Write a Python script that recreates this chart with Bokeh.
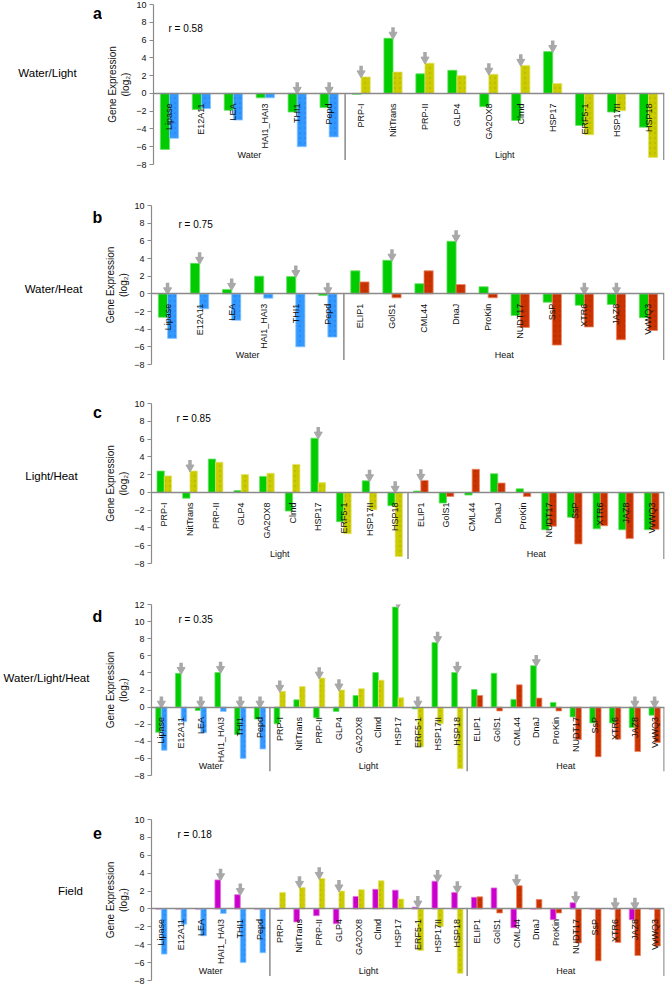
import numpy as np
from bokeh.plotting import figure
from bokeh.models import FactorRange, Label, ColumnDataSource, FixedTicker, Range1d
from bokeh.transform import dodge
from bokeh.layouts import column, row
from bokeh.embed import file_html
from bokeh.resources import INLINE
from bokeh.core.properties import value

# ---------------- data ----------------
WATER = ["Lipase", "E12A11", "LEA", "HAI1_HAI3", "THI1", "Pepd"]
LIGHT = ["PRP-I", "NitTrans", "PRP-II", "GLP4", "GA2OX8", "Clmd", "HSP17",
         "ERF5-1", "HSP17II", "HSP18"]
HEAT = ["ELIP1", "GolS1", "CML44", "DnaJ", "ProKin", "NUDT17", "SsP",
        "XTR6", "JAZ8", "VvWQ3"]

# single-stress responses
WATER_ONLY = [-5.05, -1.7, -3.0, -0.5, -6.0, -4.9]
LIGHT_ONLY = [1.85, 2.4, 3.4, 2.0, 2.15, 3.15, 1.1, -4.65, -1.95, -7.2]
HEAT_ONLY = [1.35, -0.45, 2.6, 1.05, -0.45, -3.8, -5.8, -3.75, -5.2, -4.15]

# a: Water/Light
A_WATER = [-6.3, -1.8, -1.9, -0.5, -2.1, -1.6]
A_LIGHT = [-0.1, 6.2, 2.2, 2.6, -1.5, -3.05, 4.7, -3.6, -2.1, -3.8]
A_ARROWS = ["THI1", "Pepd", "PRP-I", "NitTrans", "PRP-II", "GA2OX8", "Clmd", "HSP17"]
# b: Water/Heat
B_WATER = [-2.65, 3.45, 0.5, 2.0, 1.95, -0.2]
B_HEAT = [2.6, 3.8, 1.15, 5.95, 0.8, -2.45, -0.95, -1.3, -1.2, -2.7]
B_ARROWS = ["Lipase", "E12A11", "LEA", "THI1", "Pepd", "GolS1", "DnaJ", "XTR6", "JAZ8"]
# c: Light/Heat
C_LIGHT = [2.4, -0.65, 3.75, 0.2, 1.8, -2.1, 6.1, -3.3, 1.3, -1.5]
C_HEAT = [0.15, -1.2, -0.3, 2.1, 0.4, -4.2, -2.8, -4.1, -4.2, -4.2]
C_ARROWS = ["NitTrans", "HSP17", "HSP17II", "HSP18", "ELIP1"]
# d: Water/Light/Heat
D_WATER = [-2.95, 3.95, -0.4, 4.05, -3.2, -1.4]
D_LIGHT = [-1.95, 0.85, -1.25, -0.5, 1.35, 4.05, 11.7, -0.2, 7.55, 4.05]
D_HEAT = [2.05, 3.95, 0.9, 4.85, 0.55, -1.15, -1.85, -1.85, -2.4, -0.95]
D_ARROWS = ["Lipase", "E12A11", "LEA", "HAI1_HAI3", "THI1", "Pepd", "PRP-I", "PRP-II",
            "GLP4", "HSP17", "ERF5-1", "HSP17II", "HSP18", "DnaJ", "JAZ8", "VvWQ3"]
# e: Field
E_WATER = [0.0, 0.0, 0.0, 3.25, 1.6, 0.0]
E_LIGHT = [0.0, -1.45, -0.75, -1.65, 1.4, 2.2, 2.1, 0.2, 3.1, 1.85]
E_HEAT = [1.3, 2.35, -2.1, 0.0, -1.2, 0.7, 0.0, 0.0, -1.2, 0.0]
E_ARROWS = ["HAI1_HAI3", "THI1", "NitTrans", "PRP-II", "GLP4", "ERF5-1", "HSP17II",
            "HSP18", "CML44", "NUDT17", "XTR6", "JAZ8"]

R_VALUES = ["r = 0.58", "r = 0.75", "r = 0.85", "r = 0.35", "r = 0.18"]
ROW_LABELS = ["Water/Light", "Water/Heat", "Light/Heat", "Water/Light/Heat", "Field"]
LETTERS = ["a", "b", "c", "d", "e"]

GREEN = "#00cc00"
BLUE = "#3399ff"
YELLOW = "#cccc00"
RED = "#cc3300"
MAGENTA = "#cc00cc"
EDGE = {GREEN: "#66e066", BLUE: "#8cc6ff", YELLOW: "#e3e36a", RED: "#ee8866", MAGENTA: "#e070e0"}
DOTS = {BLUE: "#1060c0", YELLOW: "#8f8f00", RED: "#7a1f00"}
AXIS_C = "#8a8a8a"
ARROW_C = "#a8a8a8"
FONT = "Liberation Sans"

panels = [
    dict(groups=[("Water", WATER, A_WATER, WATER_ONLY, BLUE), ("Light", LIGHT, A_LIGHT, LIGHT_ONLY, YELLOW)],
         combo=GREEN, ymax=10, arrows=A_ARROWS, height=198, top=4, frame=160, left=51,
         row_x=47, row_y=2.3, r_x=15, r_y=7.3, let_y=9.0),
    dict(groups=[("Water", WATER, B_WATER, WATER_ONLY, BLUE), ("Heat", HEAT, B_HEAT, HEAT_ONLY, RED)],
         combo=GREEN, ymax=10, arrows=B_ARROWS, height=200, top=7, frame=159, left=43,
         row_x=53, row_y=0.5, r_x=27, r_y=7.9, let_y=8.65),
    dict(groups=[("Light", LIGHT, C_LIGHT, LIGHT_ONLY, YELLOW), ("Heat", HEAT, C_HEAT, HEAT_ONLY, RED)],
         combo=GREEN, ymax=10, arrows=C_ARROWS, height=200, top=5, frame=160, left=44,
         row_x=51, row_y=1.85, r_x=25, r_y=8.3, let_y=8.95),
    dict(groups=[("Water", WATER, D_WATER, WATER_ONLY, BLUE), ("Light", LIGHT, D_LIGHT, LIGHT_ONLY, YELLOW),
                 ("Heat", HEAT, D_HEAT, HEAT_ONLY, RED)],
         combo=GREEN, ymax=12, arrows=D_ARROWS, height=214, top=6, frame=171, left=43,
         row_x=46, row_y=3.35, r_x=27, r_y=10.25, let_y=10.55),
    dict(groups=[("Water", WATER, E_WATER, WATER_ONLY, BLUE), ("Light", LIGHT, E_LIGHT, LIGHT_ONLY, YELLOW),
                 ("Heat", HEAT, E_HEAT, HEAT_ONLY, RED)],
         combo=MAGENTA, ymax=10, arrows=E_ARROWS, height=173, top=7, frame=161, left=43,
         row_x=70, row_y=2.0, r_x=26, r_y=8.35, let_y=8.5),
]

YMIN = -8
BAR_W = 0.285
LW = 102          # width of the left label strip
MW = 667 - LW     # width of the chart figure

rows = []
for i, pn in enumerate(panels):
    cats, combo_vals, single_vals, single_cols = [], [], [], []
    bounds, centers, gnames = [], [], []
    for name, cl, cv, sv, col in pn["groups"]:
        start = len(cats)
        cats += cl
        combo_vals += cv
        single_vals += sv
        single_cols += [col] * len(cl)
        bounds.append(len(cats))
        centers.append(start + len(cl) / 2)
        gnames.append(name)
    n = len(cats)
    ymax = pn["ymax"]
    h = pn["height"]
    top = pn["top"]
    bottom = h - top - pn["frame"]
    yr = Range1d(YMIN, ymax)

    p = figure(x_range=FactorRange(factors=cats, range_padding=0, factor_padding=0),
               y_range=yr, width=MW, height=h,
               output_backend="svg", toolbar_location=None,
               min_border_left=pn["left"], min_border_right=3,
               min_border_top=top, min_border_bottom=bottom)
    p.xgrid.visible = False
    p.ygrid.visible = False
    p.outline_line_color = None

    src = ColumnDataSource(dict(cat=cats, combo=combo_vals, single=single_vals,
                                scol=single_cols, sedge=[EDGE[c] for c in single_cols],
                                sdot=[DOTS[c] for c in single_cols]))
    p.vbar(x=dodge("cat", -BAR_W / 2, range=p.x_range), top="combo", bottom=0, width=BAR_W,
           source=src, fill_color=pn["combo"], line_color=EDGE[pn["combo"]], line_width=0.8)
    p.vbar(x=dodge("cat", BAR_W / 2, range=p.x_range), top="single", bottom=0, width=BAR_W,
           source=src, fill_color="scol", line_color="sedge", line_width=0.8,
           hatch_pattern=".", hatch_color="sdot", hatch_alpha=0.22, hatch_scale=5)

    # arrows above selected genes
    ax, ay_tip, ay0, ay1 = [], [], [], []
    for c in pn["arrows"]:
        k = cats.index(c)
        base = max(0.0, combo_vals[k], single_vals[k])
        ax.append(c)
        ay_tip.append(base + 0.42)
        ay0.append(base + 0.6)
        ay1.append(base + 1.25)
    asrc = ColumnDataSource(dict(x=ax, tip=ay_tip, y0=ay0, y1=ay1))
    p.segment(x0="x", y0="y0", x1="x", y1="y1", source=asrc, line_color=ARROW_C, line_width=3.5)
    p.scatter(x="x", y="tip", source=asrc, marker="inverted_triangle", size=8,
              fill_color=ARROW_C, line_color=ARROW_C)

    # group separators and right edge
    sx = list(bounds)
    sx[-1] = n - 0.02
    p.segment(x0=sx, y0=[0] * len(sx), x1=sx, y1=[-7.5] * len(sx), line_color=AXIS_C, line_width=1.5)
    p.text(x=centers, y=[-6.9] * len(centers), text=gnames, text_align="center",
           text_baseline="middle", text_font_size="9px", text_font=value(FONT), text_color="#111111")

    # axes
    xa = p.xaxis[0]
    xa.fixed_location = 0
    xa.major_label_orientation = np.pi / 2
    xa.major_tick_line_color = None
    xa.minor_tick_line_color = None
    xa.axis_line_color = AXIS_C
    xa.axis_line_width = 1.5
    xa.major_label_text_font_size = "9px"
    xa.major_label_text_font = FONT
    xa.major_label_text_color = "#111111"
    xa.major_label_standoff = 4

    ya = p.yaxis[0]
    ya.ticker = FixedTicker(ticks=list(range(YMIN, ymax + 1, 2)))
    ya.axis_line_color = AXIS_C
    ya.axis_line_width = 1.2
    ya.major_tick_line_color = AXIS_C
    ya.major_tick_in = 0
    ya.major_tick_out = 4
    ya.minor_tick_line_color = None
    ya.major_label_text_font_size = "9px"
    ya.major_label_text_font = FONT
    ya.major_label_text_color = "#111111"
    ya.major_label_standoff = 3
    ya.axis_label = "Gene Expression\n(log\u2082)"
    ya.axis_label_text_font_size = "10px"
    ya.axis_label_text_font = FONT
    ya.axis_label_text_font_style = "normal"
    ya.axis_label_text_color = "#111111"
    ya.axis_label_standoff = 2

    p.add_layout(Label(x=pn["r_x"], x_units="screen", y=pn["r_y"], y_units="data",
                       text=R_VALUES[i], text_font_size="10px", text_font=FONT,
                       text_align="left", text_baseline="middle", text_color="black"))

    # left strip with panel letter and row title (shares the y scale)
    q = figure(x_range=Range1d(0, LW), y_range=yr, width=LW, height=h,
               output_backend="svg", toolbar_location=None,
               min_border_left=0, min_border_right=0, min_border_top=top, min_border_bottom=bottom)
    q.axis.visible = False
    q.xgrid.visible = False
    q.ygrid.visible = False
    q.outline_line_color = None
    q.text(x=[97], y=[pn["let_y"]], text=[LETTERS[i]], text_align="center", text_baseline="alphabetic",
           text_font_size="16px", text_font_style="bold", text_font=value(FONT), text_color="black")
    q.text(x=[pn["row_x"]], y=[pn["row_y"]], text=[ROW_LABELS[i]], text_align="center",
           text_baseline="middle", text_font_size="11.5px", text_font=value(FONT), text_color="black")

    rows.append(row(q, p, spacing=0))

layout = column(*rows, spacing=0)
open("out.html", "w").write(file_html(layout, INLINE))
